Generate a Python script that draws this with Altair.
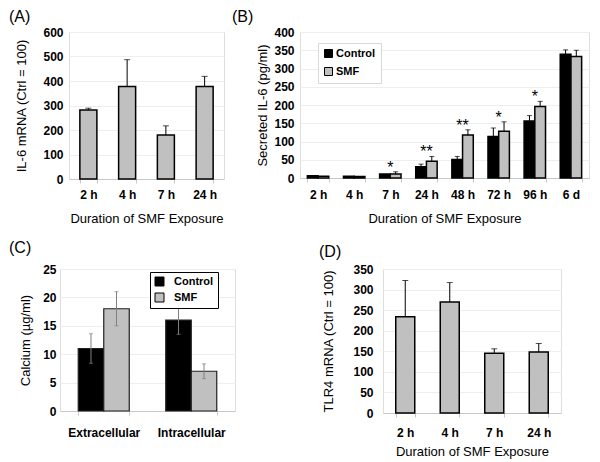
import altair as alt
import pandas as pd

FONT = "Liberation Sans"
GRAY = "#c0c0c0"
BORDER = "#c8c8c8"
GRID = "#eeeeee"

# ---------------- data ----------------
groups = ["Control", "SMF"]

# Panel A: IL-6 mRNA
a_time = ["2 h", "4 h", "7 h", "24 h"]
a_mean = [282, 378, 180, 378]
a_err = [7, 109, 37, 41]
a_ticks = [0, 100, 200, 300, 400, 500, 600]

# Panel B: secreted IL-6
b_time = ["2 h", "4 h", "7 h", "24 h", "48 h", "72 h", "96 h", "6 d"]
b_ctrl = [6, 5, 11, 31, 51, 114, 156, 339]
b_ctrl_err = [0, 0, 0, 7, 8, 23, 15, 12]
b_smf = [5, 4, 11, 46, 118, 128, 196, 333]
b_smf_err = [0, 0, 6, 13, 14, 26, 14, 17]
b_sig = ["", "", "*", "**", "**", "*", "*", ""]
b_ticks = [0, 50, 100, 150, 200, 250, 300, 350, 400]

# Panel C: calcium
c_site = ["Extracellular", "Intracellular"]
c_ctrl = [11.0, 16.0]
c_ctrl_err = [2.6, 2.5]
c_smf = [18.0, 7.0]
c_smf_err = [3.0, 1.3]
c_ticks = [0, 5, 10, 15, 20, 25]

# Panel D: TLR4 mRNA
d_time = ["2 h", "4 h", "7 h", "24 h"]
d_mean = [234, 270, 145, 148]
d_err = [88, 47, 11, 21]
d_ticks = [0, 50, 100, 150, 200, 250, 300, 350]

XTITLE = "Duration of SMF Exposure"


def xaxis(title, label_pad, title_pad):
    return alt.Axis(title=title, labelAngle=0, labelFont=FONT, labelFontSize=12,
                    labelFontWeight="bold", labelColor="black", labelPadding=label_pad,
                    labelOverlap=False, tickBand="extent", tickSize=4,
                    tickColor=BORDER, domainColor=BORDER, grid=False, titleFont=FONT,
                    titleFontSize=13, titleFontWeight="normal", titleColor="black",
                    titlePadding=title_pad)


def yaxis(title, values, label_pad, title_pad):
    return alt.Axis(title=title, values=values, tickCount=len(values) + 2,
                    labelFont=FONT, labelFontSize=12,
                    labelFontWeight="bold", labelColor="black", labelPadding=label_pad,
                    labelOverlap=False, labelBound=False, ticks=False, domain=False,
                    grid=True, gridColor=GRID, titleFont=FONT, titleFontSize=13,
                    titleFontWeight="normal", titleColor="black", titlePadding=title_pad)


def ptitle(text, dx, offset):
    return alt.TitleParams(text=text, anchor="start", frame="group", dx=dx, offset=offset,
                           baseline="alphabetic", font=FONT, fontSize=16,
                           fontWeight="normal", color="black")


def simple_panel(cats, means, errs, ticks, ytitle, ptext, dx, toff, w, h, pin,
                 lpad, tpad, ylpad, ytpad):
    df = pd.DataFrame({"time": cats, "value": means, "err": errs})
    df["upper"] = df["value"] + df["err"]
    ax = yaxis(ytitle, ticks, ylpad, ytpad)
    sc = alt.Scale(domain=[ticks[0], ticks[-1]], nice=False)
    x = alt.X("time:N", sort=cats, scale=alt.Scale(paddingInner=pin, paddingOuter=pin / 2),
              axis=xaxis(XTITLE, lpad, tpad))
    base = alt.Chart(df)
    bars = base.mark_bar(color=GRAY, stroke="black", strokeWidth=1.5).encode(
        x=x, y=alt.Y("value:Q", scale=sc, axis=ax))
    rule = base.mark_rule(color="black", strokeWidth=1).encode(
        x=alt.X("time:N", sort=cats), y=alt.Y("value:Q", scale=sc, axis=ax), y2="upper:Q")
    cap = base.mark_tick(color="black", size=6, thickness=1).encode(
        x=alt.X("time:N", sort=cats), y=alt.Y("upper:Q", scale=sc, axis=ax))
    return alt.layer(bars, rule, cap).properties(width=w, height=h,
                                                 title=ptitle(ptext, dx, toff))


# ---------------- panel A ----------------
chart_a = simple_panel(a_time, a_mean, a_err, a_ticks, "IL-6 mRNA (Ctrl = 100)", "(A)",
                       -60, -12, 155, 147, 0.561, 6, 12, 6, 14)

# ---------------- panel B ----------------
b_rows = []
for i, t in enumerate(b_time):
    b_rows.append({"time": t, "group": "Control", "value": b_ctrl[i], "err": b_ctrl_err[i]})
    b_rows.append({"time": t, "group": "SMF", "value": b_smf[i], "err": b_smf_err[i]})
b_df = pd.DataFrame(b_rows)
b_df["upper"] = b_df["value"] + b_df["err"]
b_err_df = b_df[b_df["err"] > 0]
b_top = [max(b_ctrl[i] + b_ctrl_err[i], b_smf[i] + b_smf_err[i]) for i in range(len(b_time))]
b_sig_df = pd.DataFrame({"time": b_time, "sig": b_sig, "top": b_top})
b_sig_df = b_sig_df[b_sig_df["sig"] != ""]

b_ax = yaxis("Secreted IL-6 (pg/ml)", b_ticks, 6, 4)
b_sc = alt.Scale(domain=[0, 400], nice=False)
bx = alt.X("time:N", sort=b_time, scale=alt.Scale(paddingInner=0.407, paddingOuter=0.2035),
           axis=xaxis(XTITLE, 7, 12))
bxo = alt.XOffset("group:N", sort=groups, scale=alt.Scale(paddingInner=0, paddingOuter=0))
b_bars = alt.Chart(b_df).mark_bar(stroke="black", strokeWidth=1.5).encode(
    x=bx, xOffset=bxo, y=alt.Y("value:Q", scale=b_sc, axis=b_ax),
    color=alt.Color("group:N", sort=groups,
                    scale=alt.Scale(domain=groups, range=["#000000", GRAY]),
                    legend=alt.Legend(title=None, orient="none", legendX=18, legendY=11,
                                      direction="vertical", symbolType="square",
                                      symbolSize=64, symbolStrokeColor="black",
                                      symbolStrokeWidth=1, labelFont=FONT, labelFontSize=11,
                                      labelFontWeight="bold", labelColor="black",
                                      labelOffset=2, rowPadding=5, padding=5,
                                      strokeColor="#d8d8d8", fillColor="white")))
b_rule = alt.Chart(b_err_df).mark_rule(color="black", strokeWidth=1).encode(
    x=alt.X("time:N", sort=b_time), xOffset=alt.XOffset("group:N", sort=groups),
    y=alt.Y("value:Q", scale=b_sc, axis=b_ax), y2="upper:Q")
b_cap = alt.Chart(b_err_df).mark_tick(color="black", size=5, thickness=1).encode(
    x=alt.X("time:N", sort=b_time), xOffset=alt.XOffset("group:N", sort=groups),
    y=alt.Y("upper:Q", scale=b_sc, axis=b_ax))
b_star = alt.Chart(b_sig_df).mark_text(font=FONT, fontSize=16, baseline="alphabetic",
                                        dy=1, color="black").encode(
    x=alt.X("time:N", sort=b_time), y=alt.Y("top:Q", scale=b_sc, axis=b_ax), text="sig:N")
chart_b = alt.layer(b_bars, b_rule, b_cap, b_star).properties(
    width=289, height=146, title=ptitle("(B)", -68, -12))

# ---------------- panel C ----------------
c_rows = []
for i, s in enumerate(c_site):
    c_rows.append({"site": s, "group": "Control", "value": c_ctrl[i], "err": c_ctrl_err[i]})
    c_rows.append({"site": s, "group": "SMF", "value": c_smf[i], "err": c_smf_err[i]})
c_df = pd.DataFrame(c_rows)
c_df["upper"] = c_df["value"] + c_df["err"]
c_df["lower"] = c_df["value"] - c_df["err"]

c_ax = yaxis("Calcium (\u00b5g/ml)", c_ticks, 4, 10)
c_sc = alt.Scale(domain=[0, 25], nice=False)
cx = alt.X("site:N", sort=c_site, scale=alt.Scale(paddingInner=0.417, paddingOuter=0.2085),
           axis=xaxis(None, 12, 6))
cxo = alt.XOffset("group:N", sort=groups, scale=alt.Scale(paddingInner=0, paddingOuter=0))
c_bars = alt.Chart(c_df).mark_bar(stroke="#202020", strokeWidth=1.2).encode(
    x=cx, xOffset=cxo, y=alt.Y("value:Q", scale=c_sc, axis=c_ax),
    color=alt.Color("group:N", sort=groups,
                    scale=alt.Scale(domain=groups, range=["#000000", GRAY]),
                    legend=alt.Legend(title=None, orient="none", legendX=90, legendY=3,
                                      direction="vertical", symbolType="square",
                                      symbolSize=81, symbolStrokeColor="black",
                                      symbolStrokeWidth=1, labelFont=FONT, labelFontSize=11,
                                      labelFontWeight="bold", labelColor="black",
                                      labelOffset=9, rowPadding=3, padding=4,
                                      strokeColor="black", fillColor="white")))
c_rule = alt.Chart(c_df).mark_rule(color="#808080", strokeWidth=1).encode(
    x=alt.X("site:N", sort=c_site), xOffset=alt.XOffset("group:N", sort=groups),
    y=alt.Y("lower:Q", scale=c_sc, axis=c_ax), y2="upper:Q")
c_cap_hi = alt.Chart(c_df).mark_tick(color="#808080", size=4, thickness=1).encode(
    x=alt.X("site:N", sort=c_site), xOffset=alt.XOffset("group:N", sort=groups),
    y=alt.Y("upper:Q", scale=c_sc, axis=c_ax))
c_cap_lo = alt.Chart(c_df).mark_tick(color="#808080", size=4, thickness=1).encode(
    x=alt.X("site:N", sort=c_site), xOffset=alt.XOffset("group:N", sort=groups),
    y=alt.Y("lower:Q", scale=c_sc, axis=c_ax))
chart_c = alt.layer(c_bars, c_rule, c_cap_hi, c_cap_lo).properties(
    width=175, height=142, title=ptitle("(C)", -51, -6))

# ---------------- panel D ----------------
chart_d = simple_panel(d_time, d_mean, d_err, d_ticks, "TLR4 mRNA (Ctrl = 100)", "(D)",
                       -64, -10, 178, 144, 0.573, 10, 7, 10, 17)

# invisible 1px spacer so that panel A sits a little right of panel C
spacer = alt.Chart(pd.DataFrame({"s": [0]})).mark_point(opacity=0).encode(
    x=alt.value(0), y=alt.value(0)).properties(
    width=1, height=1, view=alt.ViewBackground(strokeOpacity=0))

RES = dict(color="independent", xOffset="independent")

left_a = alt.hconcat(spacer, chart_a, spacing=8, bounds="flush")
row1 = alt.hconcat(left_a, chart_b, spacing=240, bounds="flush").resolve_scale(
    **RES).resolve_legend(color="independent")
row2 = alt.hconcat(chart_c, chart_d, spacing=148, bounds="flush").resolve_scale(
    **RES).resolve_legend(color="independent")

chart = alt.vconcat(row1, row2, spacing=13, bounds="full").resolve_scale(
    **RES).resolve_legend(color="independent").properties(
    padding={"left": 0, "top": 0, "right": 0, "bottom": 0}
).configure_view(stroke=BORDER, strokeWidth=1).configure_axis(
    labelOverlap=False).configure(font=FONT, background="white")

chart.save("out.html", embed_options={"renderer": "svg", "actions": False})
